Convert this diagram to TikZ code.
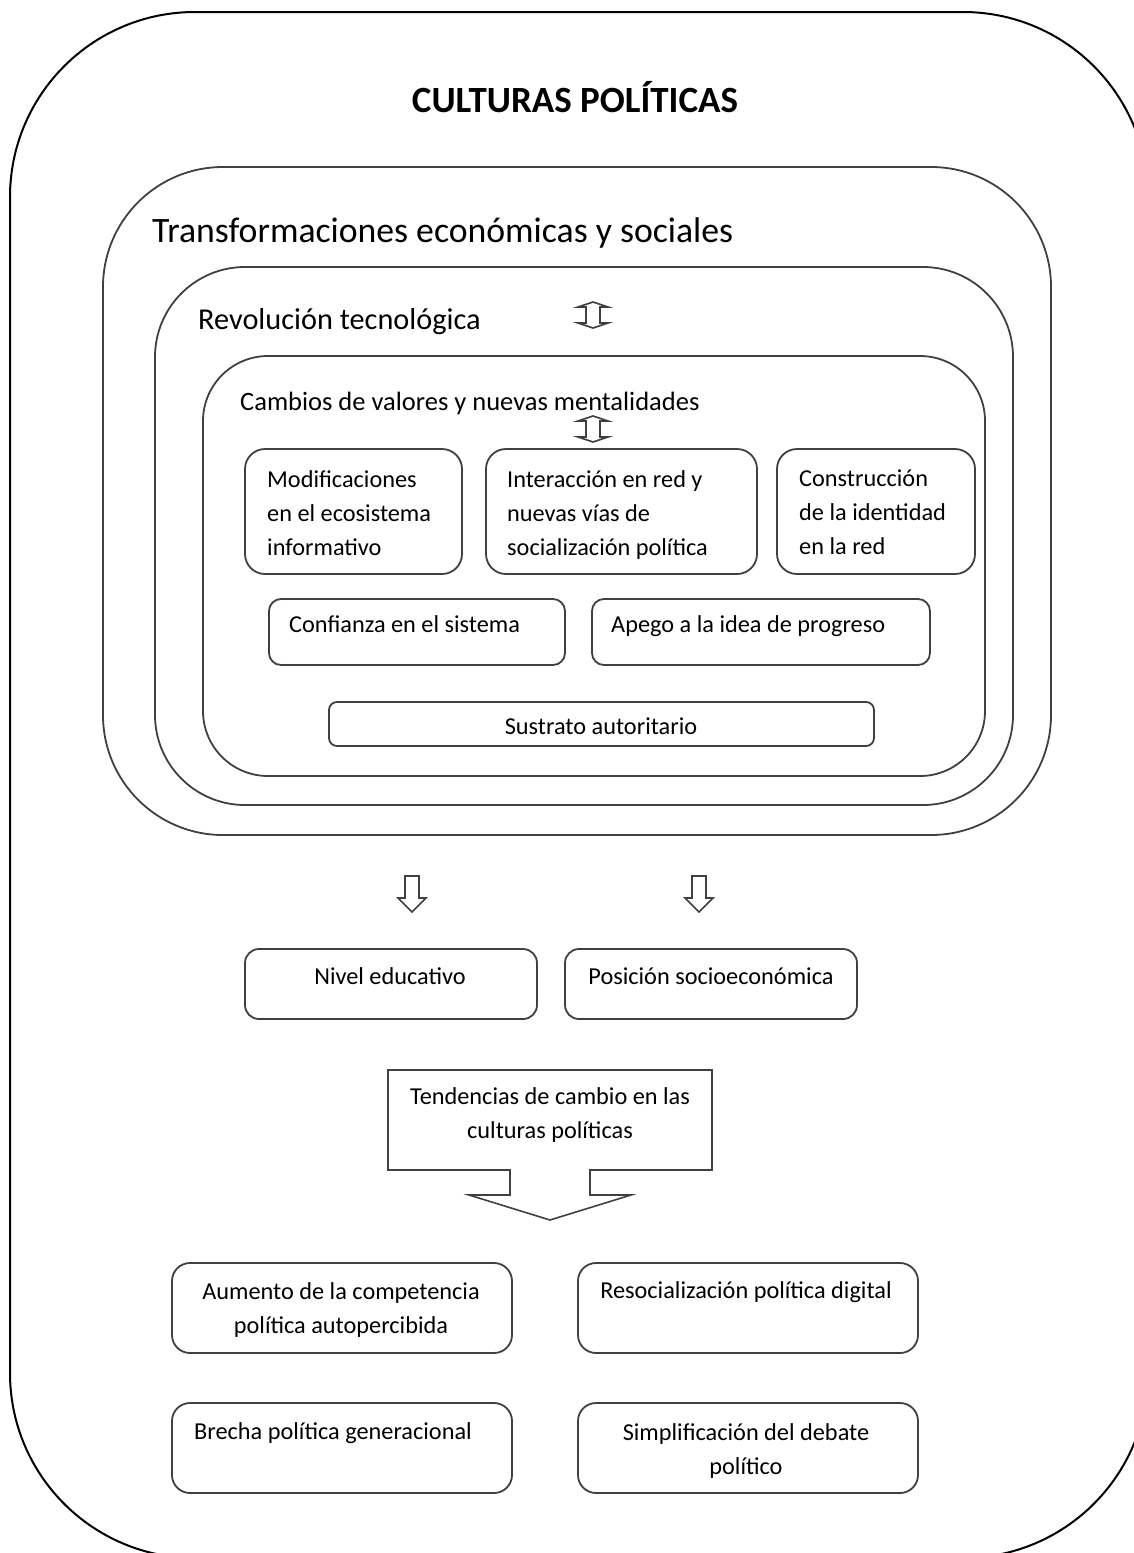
\documentclass[tikz,border=0pt]{standalone}
\usepackage{fontspec}
\setmainfont{Carlito}
\usepackage{tikz}
\usepackage{xcolor}
\colorlet{boxline}{black!75}

\begin{document}
\begin{tikzpicture}[x=1pt, y=-1pt,
    frame/.style={draw=black, line width=2},
    ring/.style={draw=boxline, line width=1.8},
    item/.style={draw=boxline, line width=1.8, rounded corners=20, inner sep=0},
    label/.style={inner sep=0, font=\fontsize{24.3}{34}\selectfont}]
            \useasboundingbox (0, 0) rectangle (1134, 1553);
            % outer frame
            \begin{scope}
                \clip (0, 0) rectangle (1134, 1553);
                \draw[frame, rounded corners=185] (10, 12) rectangle (1148, 1558);
            \end{scope}
            \node[inner sep=0, anchor=base, font=\fontsize{37}{40}\selectfont\bfseries] (title) at (575, 112) {CULTURAS POLÍTICAS};
            % nested rings
            \draw[ring, rounded corners=120] (103, 167) rectangle (1051, 835);
            \node[inner sep=0, anchor=base west, font=\fontsize{35.7}{40}\selectfont] (transf) at (152, 242) {Transformaciones económicas y sociales};
            \draw[ring, rounded corners=90] (155, 267) rectangle (1013, 805);
            \node[inner sep=0, anchor=base west, font=\fontsize{30.3}{34}\selectfont] (revol) at (198, 329) {Revolución tecnológica};
            \draw[ring, rounded corners=65] (203, 356) rectangle (985, 776);
            \node[inner sep=0, anchor=base west, font=\fontsize{26.5}{30}\selectfont] (cambios) at (240, 410) {Cambios de valores y nuevas mentalidades};
            % small two-way arrows
            \coordinate (arr1) at (593, 315);
            \coordinate (arr2) at (593, 429);
            \foreach \c in {arr1, arr2} {
                \draw[ring, line width=1.6] (\c) ++(0, -13) -- ++(15, 5) -- ++(-8, 0) -- ++(0, 16) -- ++(8, 0)
                    -- ++(-15, 5) -- ++(-15, -5) -- ++(8, 0) -- ++(0, -16) -- ++(-8, 0) -- cycle;
            }
            % first row
            \node[item, minimum width=217, minimum height=125] (modif) at (353.5, 511.5) {};
            \node[item, minimum width=271, minimum height=125] (interac) at (621.5, 511.5) {};
            \node[item, minimum width=198, minimum height=125] (constr) at (876, 511.5) {};
            \node[label, anchor=north west, align=left] (modifT) at (267, 470) {Modificaciones\\en el ecosistema\\informativo};
            \node[label, anchor=north west, align=left] (interacT) at (507, 470) {Interacción en red y\\nuevas vías de\\socialización política};
            \node[label, anchor=north west, align=left] (constrT) at (799, 470) {Construcción\\de la identidad\\en la red};
            % second row
            \node[item, rounded corners=12, minimum width=296, minimum height=66] (confianza) at (417, 632) {};
            \node[item, rounded corners=12, minimum width=338, minimum height=66] (apego) at (761, 632) {};
            \node[label, anchor=base west] (confianzaT) at (289, 632) {Confianza en el sistema};
            \node[label, anchor=base west] (apegoT) at (611, 632) {Apego a la idea de progreso};
            % third row
            \node[item, rounded corners=8, minimum width=545, minimum height=44] (sustrato) at (601.5, 724) {};
            \node[label, anchor=base] (sustratoT) at (601, 734) {Sustrato autoritario};
            % down arrows
            \coordinate (down1) at (412, 876);
            \coordinate (down2) at (699, 876);
            \foreach \c in {down1, down2} {
                \draw[ring, line width=1.6] (\c) ++(-7, 0) -- ++(14, 0) -- ++(0, 22) -- ++(7, 0) -- ++(-14, 14)
                    -- ++(-14, -14) -- ++(7, 0) -- cycle;
            }
            % factors
            \node[item, rounded corners=14, minimum width=292, minimum height=70] (nivel) at (391, 984) {};
            \node[item, rounded corners=14, minimum width=292, minimum height=70] (posicion) at (711, 984) {};
            \node[label, anchor=base] (nivelT) at (390, 984) {Nivel educativo};
            \node[label, anchor=base] (posicionT) at (711, 984) {Posición socioeconómica};
            % callout
            \draw[ring, line width=1.6] (388, 1070) -- (712, 1070) -- (712, 1170) -- (590, 1170) -- (590, 1195) -- (631, 1195)
                -- (550, 1220) -- (469, 1195) -- (510, 1195) -- (510, 1170) -- (388, 1170) -- cycle;
            \node[label, anchor=north, align=center] (tendT) at (550, 1087) {Tendencias de cambio en las\\culturas políticas};
            % results
            \node[item, rounded corners=18, minimum width=340, minimum height=90] (aumento) at (342, 1308) {};
            \node[item, rounded corners=18, minimum width=340, minimum height=90] (resoc) at (748, 1308) {};
            \node[item, rounded corners=18, minimum width=340, minimum height=90] (brecha) at (342, 1448) {};
            \node[item, rounded corners=18, minimum width=340, minimum height=90] (simpl) at (748, 1448) {};
            \node[label, anchor=north, align=center] (aumentoT) at (341, 1282) {Aumento de la competencia\\política autopercibida};
            \node[label, anchor=base] (resocT) at (746, 1298) {Resocialización política digital};
            \node[label, anchor=base] (brechaT) at (333, 1439) {Brecha política generacional};
            \node[label, anchor=north, align=center] (simplT) at (746, 1423) {Simplificación del debate\\político};
        \end{tikzpicture}
\end{document}
